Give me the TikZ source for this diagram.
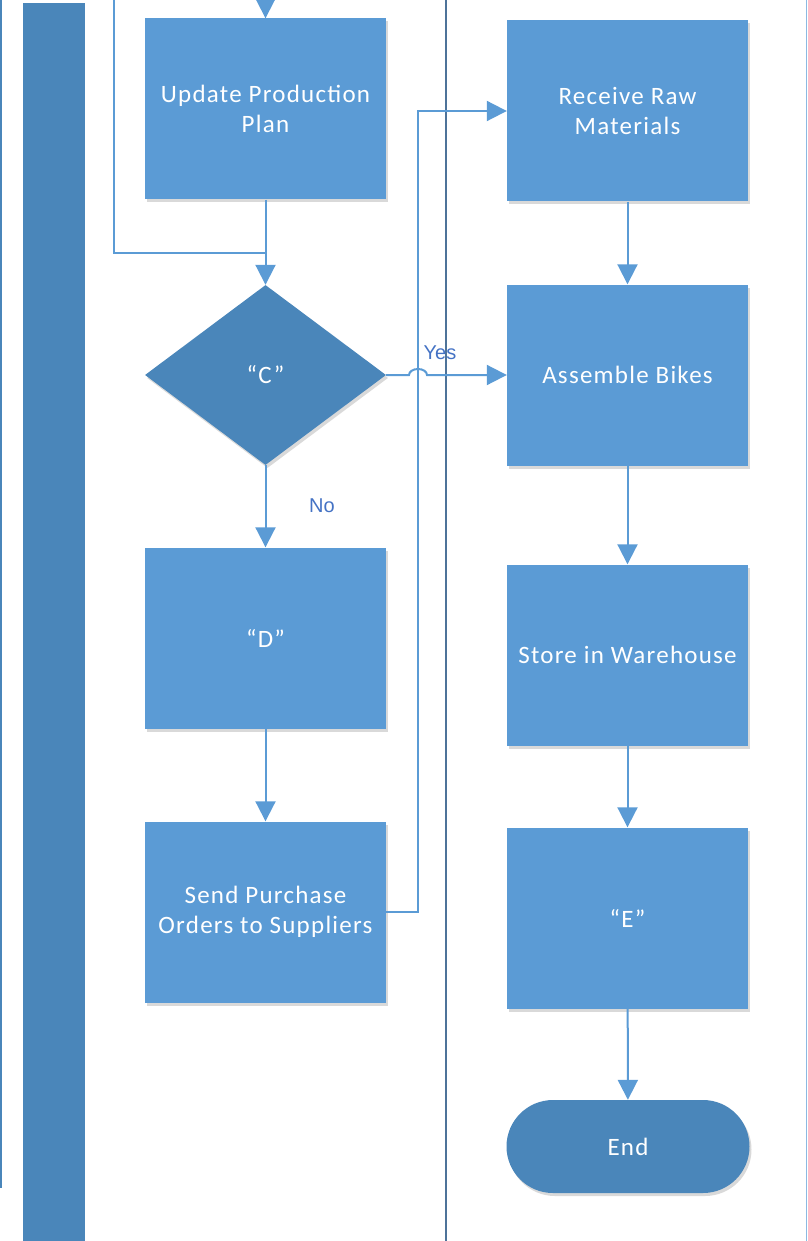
\documentclass[tikz,border=0pt]{standalone}
\usepackage{fontspec}
\setmainfont{Carlito}
\newfontfamily\boxfont{Carlito}[LetterSpace=5]
\newfontfamily\lblfont{Liberation Sans}
\usetikzlibrary{arrows.meta,shapes.geometric,shapes.misc,shadows}

\definecolor{boxblue}{HTML}{5B9BD5}
\definecolor{darkblue}{HTML}{4A86BA}
\definecolor{lblblue}{HTML}{4472C4}
\definecolor{lanegray}{HTML}{4E7399}

\tikzset{
  boxshadow/.style={drop shadow={shadow xshift=2pt, shadow yshift=-3pt, fill=black, opacity=.15}},
  proc/.style={rectangle, fill=boxblue, minimum width=241pt, minimum height=181pt,
    text=white, align=center, inner sep=0pt, font=\boxfont\fontsize{25}{30}\selectfont, boxshadow},
  decide/.style={diamond, fill=darkblue, minimum width=241pt, minimum height=180pt, aspect=1.34,
    text=white, inner sep=0pt, font=\boxfont\fontsize{25}{30}\selectfont, boxshadow},
  term/.style={rounded rectangle, fill=darkblue, minimum width=243pt, minimum height=93pt,
    text=white, inner sep=0pt, font=\boxfont\fontsize{25}{30}\selectfont, boxshadow},
  conn/.style={draw=boxblue, line width=2pt},
  flow/.style={conn, -{Triangle[length=20pt,width=20pt]}},
  lbl/.style={text=lblblue, font=\lblfont\fontsize{20}{24}\selectfont, inner sep=0pt}
}

\begin{document}
\begin{tikzpicture}[x=1pt,y=-1pt]
    \useasboundingbox (0,0) rectangle (807,1241);

    % lanes
    \fill[darkblue] (23,3) rectangle (85,1241);
    \draw[darkblue, line width=2pt] (1,0) -- (1,1188);
    \draw[lanegray, line width=2pt] (446,0) -- (446,1241);
    \draw[boxblue!70, line width=1pt] (806,0) -- (806,1241);

    % left lane
    \node[proc] (upd) at (265.5,109) {Update Production\\Plan};
    \node[decide] (cdec) at (265.5,375) {“C”};
    \node[proc] (dbox) at (265.5,638) {“D”};
    \node[proc] (send) at (265.5,912) {Send Purchase\\Orders to Suppliers};

    % right lane
    \node[proc] (recv) at (627.5,111) {Receive Raw\\Materials};
    \node[proc] (asm) at (627.5,375) {Assemble Bikes};
    \node[proc] (store) at (627.5,655) {Store in Warehouse};
    \node[proc] (ebox) at (627.5,918) {“E”};
    \node[term] (endt) at (628,1146.5) {End};

    \coordinate (topin) at (265.5,-10);
    \coordinate (looptop) at (114,-10);
    \coordinate (loopjoin) at (265.5,253);
    \coordinate (jog) at (418,500);
    \coordinate (hop) at (409,375);

    \draw[flow] (topin) -- (upd);
    \draw[conn] (looptop) |- (loopjoin);
    \draw[flow] (upd) -- (cdec);
    \draw[flow] (cdec) -- (dbox);
    \node[lbl] (nolbl) at (322,506) {No};
    \draw[flow] (dbox) -- (send);
    \draw[flow] (send.east) -| (jog) |- (recv.west);

    \draw[flow] (cdec.east) -- (hop)
        arc[start angle=180, end angle=0, x radius=9pt, y radius=6pt] -- (asm.west);
    \node[lbl] (yeslbl) at (440,353) {Yes};

    \draw[flow] (recv) -- (asm);
    \draw[flow] (asm) -- (store);
    \draw[flow] (store) -- (ebox);
    \draw[flow] (ebox) -- (endt);

\end{tikzpicture}
\end{document}
